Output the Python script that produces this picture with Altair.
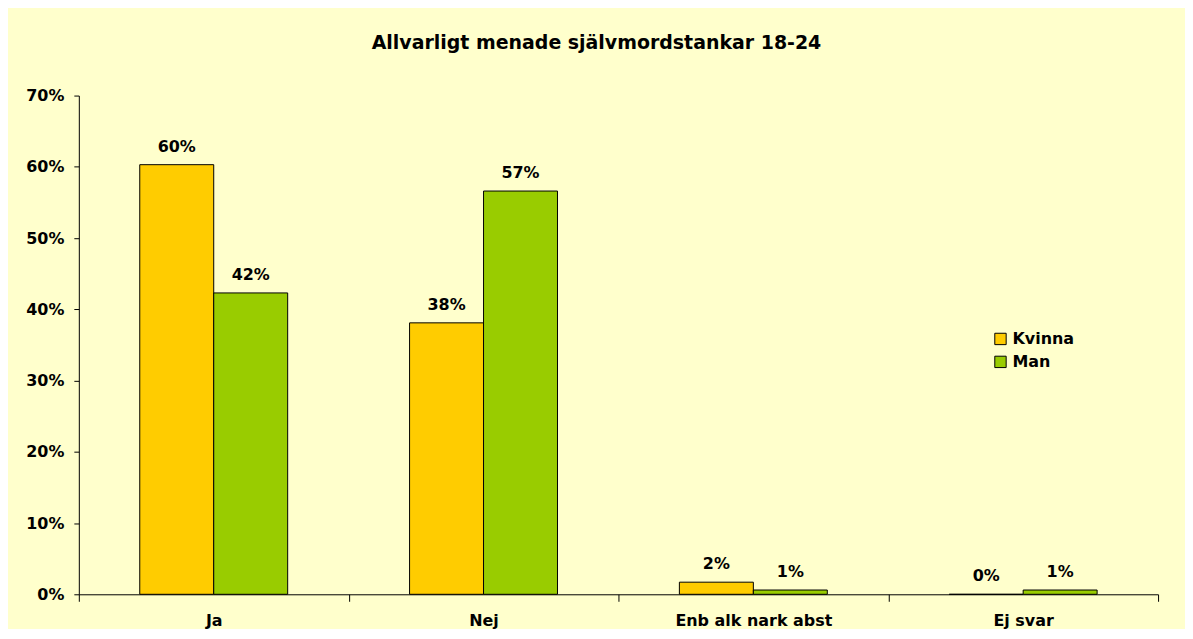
import altair as alt
import pandas as pd

categories = ["Ja", "Nej", "Enb alk nark abst", "Ej svar"]
series = ["Kvinna", "Man"]
kvinna = [0.603, 0.381, 0.017, 0.0]
man = [0.423, 0.566, 0.006, 0.006]
colors = ["#FFCC00", "#99CC00"]

rows = []
for c, k, m in zip(categories, kvinna, man):
    rows.append({"cat": c, "serie": "Kvinna", "val": k})
    rows.append({"cat": c, "serie": "Man", "val": m})
df = pd.DataFrame(rows)

FONT = "DejaVu Sans"

x = alt.X("cat:N", sort=categories, title=None,
          scale=alt.Scale(paddingInner=0, paddingOuter=0),
          axis=alt.Axis(labelAngle=0, tickBand="extent", tickSize=7, tickColor="black",
                        domainColor="black", labelFont=FONT, labelFontSize=16,
                        labelFontWeight="bold", labelColor="black", labelPadding=11))
y = alt.Y("val:Q", title=None,
          scale=alt.Scale(domain=[0, 0.7], nice=False),
          axis=alt.Axis(format=".0%", values=[0, 0.1, 0.2, 0.3, 0.4, 0.5, 0.6, 0.7],
                        grid=False, tickSize=5, tickColor="black", domainColor="black",
                        labelFont=FONT, labelFontSize=16, labelFontWeight="bold",
                        labelColor="black", labelPadding=10))
xo = alt.XOffset("serie:N", sort=series,
                 scale=alt.Scale(paddingInner=0, paddingOuter=0.824))

bars = alt.Chart(df).mark_bar(stroke="black", strokeWidth=1).encode(
    x=x, y=y, xOffset=xo,
    color=alt.Color("serie:N", sort=series,
                    scale=alt.Scale(domain=series, range=colors),
                    legend=alt.Legend(title=None, orient="none", legendX=916, legendY=236,
                                      symbolType="square", symbolSize=130,
                                      symbolStrokeColor="black", symbolStrokeWidth=1,
                                      labelFont=FONT, labelFontSize=16, labelFontWeight="bold",
                                      labelColor="black", rowPadding=7, labelOffset=4))
)

labels = alt.Chart(df).mark_text(dy=-10, baseline="bottom", font=FONT, fontSize=16,
                                 fontWeight="bold", color="black").encode(
    x=alt.X("cat:N", sort=categories), y="val:Q", xOffset=xo,
    text=alt.Text("val:Q", format=".0%")
)

chart = alt.layer(bars, labels).properties(
    width=1082, height=500,
    background="#FFFFCC",
    padding={"left": 17, "top": 25, "right": 26, "bottom": 0},
    title=alt.TitleParams("Allvarligt menade självmordstankar 18-24", font=FONT,
                          fontSize=19, fontWeight="bold", color="black",
                          anchor="middle", dx=-22, offset=35)
).configure_view(stroke=None)

chart.save("out.html", embed_options={"renderer": "svg", "actions": False})
